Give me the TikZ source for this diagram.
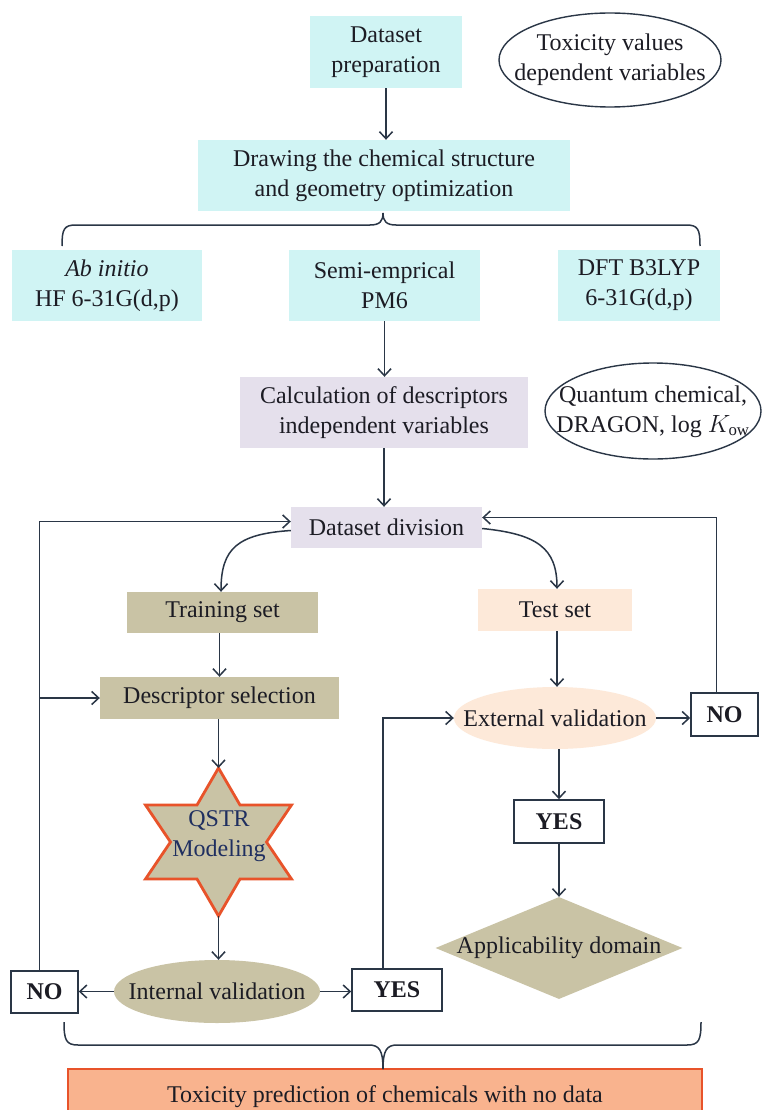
\documentclass[tikz,border=0pt]{standalone}
\usepackage{fontspec}
\setmainfont{Liberation Serif}
\usetikzlibrary{arrows.meta,shapes.geometric,calc}
\definecolor{cyanbox}{HTML}{D0F4F4}
\definecolor{lavbox}{HTML}{E5E0EC}
\definecolor{khaki}{HTML}{C9C3A5}
\definecolor{peach}{HTML}{FDE9D9}
\definecolor{orangeline}{HTML}{E8532A}
\definecolor{salmon}{HTML}{F9B38E}
\definecolor{linec}{HTML}{2A3646}
\definecolor{txtc}{HTML}{1C1C24}
\definecolor{navy}{HTML}{1F2F60}
\begin{document}
\begin{tikzpicture}[x=1pt,y=1pt,
  every node/.style={font=\fontsize{24}{30}\selectfont, text=txtc, align=center, inner sep=0pt},
  box/.style n args={2}{rectangle, minimum width=#1, minimum height=#2},
  ansbox/.style n args={2}{rectangle, minimum width=#1, minimum height=#2, fill=white, draw=linec, line width=1.5pt, font=\fontsize{24}{30}\selectfont\bfseries},
  oval/.style n args={2}{ellipse, minimum width=#1, minimum height=#2},
  ln/.style={draw=linec, line width=1.5pt},
  arr/.style={draw=linec, line width=1.5pt, -{Straight Barb[length=7pt,width=13pt,line width=1.5pt]}}]
\fill[white] (0,0) rectangle (761,-1110);
\useasboundingbox (0,0) rectangle (761,-1110);

% top part
\node[box={152}{72}, fill=cyanbox] (prep) at (386,-52) {Dataset\\preparation};
\node[oval={222}{94}, draw=linec, line width=1.4pt] (tox) at (610,-60)
  {\makebox[0pt]{\begin{tabular}{@{}c@{}}Toxicity values\\dependent variables\end{tabular}}};
\node[box={372}{71}, fill=cyanbox] (drw) at (384,-175.5) {Drawing the chemical structure\\and geometry optimization};
\node[box={190}{71}, fill=cyanbox] (ab) at (107,-285.5) {\textit{Ab initio}\\HF 6-31G(d,p)};
\node[box={191}{71}, fill=cyanbox] (semi) at (384.5,-285.5) {Semi-emprical\\PM6};
\node[box={162}{71}, fill=cyanbox] (dft) at (639,-285.5) {DFT B3LYP\\6-31G(d,p)};
\node[box={288}{71}, fill=lavbox] (calc) at (384,-412.5) {Calculation of descriptors\\independent variables};
\node[oval={216}{96}, draw=linec, line width=1.4pt] (quant) at (653,-411)
  {\makebox[0pt]{\begin{tabular}{@{}c@{}}Quantum chemical,\\DRAGON, log $K_{\mathrm{ow}}$\end{tabular}}};

% middle
\node[box={191}{41}, fill=lavbox] (div) at (386.5,-527.5) {Dataset division};
\node[box={191}{41}, fill=khaki] (train) at (222.5,-612.5) {Training set};
\node[box={154}{42}, fill=peach] (test) at (555,-610) {Test set};
\node[box={239}{42}, fill=khaki] (desc) at (219.5,-698) {Descriptor selection};
\node[oval={202}{62}, fill=peach] (ext) at (555,-718) {\makebox[0pt]{External validation}};
\node[ansbox={67}{43}] (noR) at (724.5,-714.5) {NO};
\node[ansbox={90}{43}] (yesR) at (559,-821.5) {YES};
\node[diamond, minimum width=247, minimum height=102, fill=khaki] (app) at (559,-948) {\makebox[0pt]{Applicability domain}};

% star
\fill[khaki, draw=orangeline, line width=2.8pt, line join=miter]
  (218.5,-768) -- (240,-805) -- (291.5,-805) -- (266.5,-842) -- (291.5,-879) -- (240,-879)
  -- (218.5,-916) -- (197,-879) -- (145.5,-879) -- (170.5,-842) -- (145.5,-805) -- (197,-805) -- cycle;
\coordinate (startop) at (218.5,-768);
\coordinate (starbot) at (218.5,-916);
\node[text=navy] (qstr) at (219,-836) {QSTR\\Modeling};

\node[oval={206}{63}, fill=khaki] (intv) at (217,-991.5) {\makebox[0pt]{Internal validation}};
\node[ansbox={67}{42}] (noL) at (44.5,-992) {NO};
\node[ansbox={90}{42}] (yesL) at (397,-990) {YES};

\node[box={634}{56}, fill=salmon, draw=orangeline, line width=2.8pt] (pred) at (385,-1097)
  {Toxicity prediction of chemicals with no data};

% braces
\coordinate (tbtip) at (383,-213);
\draw[ln] (62,-246) .. controls (62,-229) and (64,-225) .. (76,-225) -- (370,-225)
  .. controls (380,-225) and (383,-221) .. (tbtip);
\draw[ln] (700,-246) .. controls (700,-229) and (698,-225) .. (686,-225) -- (396,-225)
  .. controls (386,-225) and (383,-221) .. (tbtip);
\coordinate (bbtip) at (383,-1069);
\draw[ln] (64,-1022) .. controls (64,-1040) and (66,-1045) .. (78,-1045) -- (369,-1045)
  .. controls (379,-1045) and (383,-1050) .. (bbtip);
\draw[ln] (701,-1022) .. controls (701,-1040) and (699,-1045) .. (687,-1045) -- (397,-1045)
  .. controls (387,-1045) and (383,-1050) .. (bbtip);

% connectors
\draw[arr] (prep.south) -- (prep.south |- drw.north);
\draw[arr] (semi.south) -- (semi.south |- calc.north);
\draw[arr] (calc.south) -- (calc.south |- div.north);
\draw[arr] ([yshift=-3pt]div.west) .. controls (238,-534) and (221,-548) .. (train.north -| 221,0);
\draw[arr] ([yshift=-1pt]div.east) .. controls (537,-534) and (557,-548) .. (test.north -| 557,0);
\draw[arr] (desc.north |- train.south) -- (desc.north);
\draw[arr] (desc.south -| startop) -- (startop);
\draw[arr] (starbot) -- (starbot |- intv.north);
\draw[arr] (intv.west) -- (intv.west -| noL.east);
\draw[arr] (intv.east) -- (intv.east -| yesL.west);
\draw[arr] ([xshift=-5pt]noL.north) |- ([yshift=6pt]div.west);
\draw[arr] ([xshift=-5pt]noL.north |- desc.west) -- (desc.west);
\draw[arr] ([xshift=-14pt]yesL.north) |- (ext.west);
\draw[arr] (test.south -| 557,0) -- (ext.north -| 557,0);
\draw[arr] (ext.east) -- (ext.east -| noR.west);
\draw[arr] ([xshift=-8pt]noR.north) |- ([yshift=10pt]div.east);
\draw[arr] (yesR.north |- ext.south) -- (yesR.north);
\draw[arr] (yesR.south) -- (app.north);
\end{tikzpicture}
\end{document}
